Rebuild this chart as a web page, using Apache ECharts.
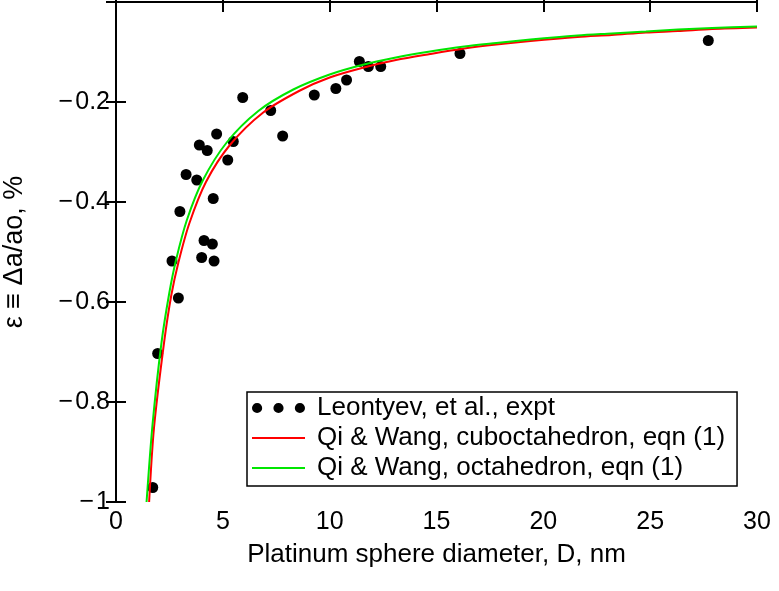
<!DOCTYPE html>
<html>
<head>
<meta charset="utf-8">
<script src="https://cdn.jsdelivr.net/npm/echarts@6/dist/echarts.min.js"></script>
<style>
  html, body { margin: 0; padding: 0; background: #fff; }
  #chart { width: 779px; height: 591px; }
</style>
</head>
<body>
<div id="chart"></div>
<script>
// Leontyev, et al., expt
var exptD   = [1.72, 1.95, 2.92, 2.62, 2.99, 3.28, 3.78, 3.90, 4.27, 4.01, 4.59, 4.12, 4.51, 4.55,
               4.71, 5.23, 5.49, 5.93, 7.24, 7.80, 9.28, 10.29, 10.79, 11.39, 11.81, 12.39, 16.10, 27.72];
var exptEps = [-0.971, -0.703, -0.592, -0.518, -0.419, -0.345, -0.356, -0.286, -0.297, -0.511, -0.518, -0.477, -0.484, -0.393,
               -0.264, -0.316, -0.279, -0.191, -0.217, -0.268, -0.186, -0.173, -0.156, -0.119, -0.129, -0.129, -0.103, -0.077];

// Qi & Wang, cuboctahedron
var cuboD   = [1.55, 1.78, 2.25, 2.59, 2.92, 3.43, 4.21, 5.33, 6.89, 8.61, 10.0, 11.6, 13.1, 14.7,
               16.3, 17.8, 19.4, 21.6, 23.2, 24.8, 26.3, 27.9, 30.0];
var cuboEps = [-1.0, -0.851, -0.681, -0.586, -0.521, -0.443, -0.360, -0.286, -0.221, -0.177, -0.151, -0.131, -0.116, -0.104,
               -0.093, -0.085, -0.078, -0.070, -0.066, -0.061, -0.058, -0.054, -0.051];

// Qi & Wang, octahedron
var octaD   = [1.43, 1.71, 2.13, 2.49, 2.81, 3.31, 4.06, 5.18, 6.66, 8.30, 10.0, 11.6, 13.1, 14.7,
               16.3, 17.8, 19.4, 21.6, 23.2, 24.8, 26.3, 27.9, 30.0];
var octaEps = [-1.0, -0.845, -0.681, -0.583, -0.516, -0.437, -0.357, -0.281, -0.218, -0.175, -0.145, -0.125, -0.111, -0.099,
               -0.089, -0.082, -0.075, -0.067, -0.063, -0.059, -0.055, -0.052, -0.049];

var names = ['Leontyev, et al., expt', 'Qi & Wang, cuboctahedron, eqn (1)', 'Qi & Wang, octahedron, eqn (1)'];

function zip(xs, ys) {
    return xs.map(function (x, i) { return [x, ys[i]]; });
}

var font = 'Liberation Sans, Arial, sans-serif';
var threeDots = 'path://M0,5a5,5 0 1,0 10,0a5,5 0 1,0 -10,0Z' +
                'M21,5a5,5 0 1,0 10,0a5,5 0 1,0 -10,0Z' +
                'M42,5a5,5 0 1,0 10,0a5,5 0 1,0 -10,0Z';
var lineIcon = 'path://M0,0H53V2H0Z';

var axisLine = {show: true, lineStyle: {color: '#000', width: 2}};
var axisTick = {show: true, inside: true, length: 10, lineStyle: {color: '#000', width: 2}};

var chart = echarts.init(document.getElementById('chart'));
var option = {
    animation: false,
    backgroundColor: '#fff',
    textStyle: {fontFamily: font},
    grid: {left: 116, right: 22, top: 2, bottom: 89, containLabel: false, outerBoundsMode: 'none'},
    legend: {
        orient: 'vertical',
        left: 247,
        top: 392,
        padding: [2, 12, 4, 5],
        itemGap: 2,
        itemWidth: 53,
        itemHeight: 11,
        borderColor: '#000',
        borderWidth: 1.5,
        borderRadius: 0,
        backgroundColor: '#fff',
        textStyle: {fontSize: 26, color: '#000', fontFamily: font, lineHeight: 28, padding: [0, 0, 0, 7]},
        data: [
            {name: names[0], icon: threeDots},
            {name: names[1], icon: lineIcon},
            {name: names[2], icon: lineIcon}
        ]
    },
    xAxis: [{
        type: 'value', min: 0, max: 30, interval: 5, position: 'bottom',
        axisLine: axisLine, axisTick: axisTick, splitLine: {show: false},
        axisLabel: {fontSize: 25, color: '#000', margin: 8, fontFamily: font},
        name: 'Platinum sphere diameter, D, nm', nameLocation: 'middle', nameGap: 40,
        nameTextStyle: {fontSize: 26, color: '#000', fontFamily: font}
    }, {
        type: 'value', min: 0, max: 30, interval: 5, position: 'top',
        axisLine: axisLine, axisTick: axisTick, splitLine: {show: false},
        axisLabel: {show: false}
    }],
    yAxis: [{
        type: 'value', min: -1, max: 0, interval: 0.2, position: 'left',
        axisLine: axisLine, axisTick: axisTick, splitLine: {show: false},
        axisLabel: {
            fontSize: 25, color: '#000', margin: 6, fontFamily: font,
            formatter: function (v) {
                if (v === 0) return '';
                return '\u2212\u200a' + Math.abs(Math.round(v * 10) / 10);
            }
        },
        name: '\u03b5 \u2261 \u0394a/ao, %', nameLocation: 'middle', nameGap: 88, nameRotate: 90,
        nameTextStyle: {fontSize: 27, color: '#000', fontFamily: font}
    }, {
        type: 'value', min: -1, max: 0, interval: 0.2, position: 'right',
        axisLine: axisLine, axisTick: axisTick, splitLine: {show: false},
        axisLabel: {show: false}
    }],
    series: [{
        name: names[0],
        type: 'scatter',
        symbol: 'circle',
        symbolSize: 11,
        itemStyle: {color: '#000', opacity: 1},
        data: zip(exptD, exptEps),
        z: 3
    }, {
        name: names[1],
        type: 'line',
        showSymbol: false,
        smooth: 0.3,
        clip: true,
        itemStyle: {color: '#ff0000'},
        lineStyle: {color: '#ff0000', width: 2},
        data: zip(cuboD, cuboEps),
        z: 4
    }, {
        name: names[2],
        type: 'line',
        showSymbol: false,
        smooth: 0.3,
        clip: true,
        itemStyle: {color: '#00e600'},
        lineStyle: {color: '#00e600', width: 2},
        data: zip(octaD, octaEps),
        z: 5
    }]
};
chart.setOption(option);
</script>
</body>
</html>
